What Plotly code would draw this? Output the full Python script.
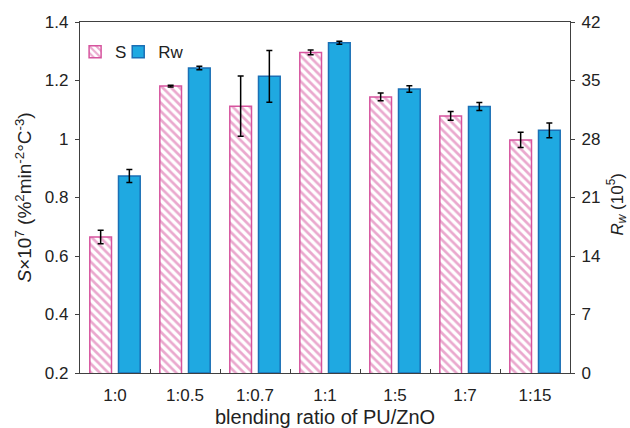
import plotly.graph_objects as go

categories = ["1:0", "1:0.5", "1:0.7", "1:1", "1:5", "1:7", "1:15"]
s_values = [0.665, 1.181, 1.112, 1.296, 1.144, 1.079, 0.997]
s_errors = [0.023, 0.003, 0.103, 0.008, 0.013, 0.015, 0.026]
rw_values = [23.57, 36.5, 35.5, 39.53, 33.98, 31.9, 29.04]
rw_errors = [0.78, 0.2, 3.1, 0.18, 0.38, 0.48, 0.88]

pink = "#d6549e"
blue_fill = "#1fa9e1"
blue_line = "#1b6fb5"
axis_col = "#404040"
font_family = "Liberation Sans, Arial, sans-serif"

fig = go.Figure()
fig.add_trace(go.Bar(
    x=categories, y=s_values, name="S",
    width=0.31, offset=-0.36,
    marker=dict(color="white", line=dict(color=pink, width=1.5),
                pattern=dict(shape="\\", fgcolor=pink, bgcolor="white",
                             size=6, solidity=0.45, fillmode="overlay")),
    error_y=dict(type="data", array=s_errors, color="black", thickness=1.5, width=3),
    yaxis="y", legend="legend",
))
fig.add_trace(go.Bar(
    x=categories, y=rw_values, name="Rw",
    width=0.31, offset=0.05,
    marker=dict(color=blue_fill, line=dict(color=blue_line, width=1.5)),
    error_y=dict(type="data", array=rw_errors, color="black", thickness=1.5, width=3),
    yaxis="y2", legend="legend2",
))

leg_common = dict(orientation="h", y=0.965, xanchor="left", yanchor="top",
                  bgcolor="rgba(0,0,0,0)", font=dict(size=17), itemwidth=30)

fig.update_layout(
    width=630, height=428,
    margin=dict(l=80, r=60, t=22, b=55, autoexpand=False),
    paper_bgcolor="white", plot_bgcolor="white",
    font=dict(family=font_family, size=17, color="#222222"),
    barmode="overlay",
    showlegend=True,
    legend=dict(x=-0.01, **leg_common),
    legend2=dict(x=0.078, **leg_common),
    xaxis=dict(
        type="category", tickson="boundaries", ticks="inside", ticklen=4,
        tickcolor=axis_col, showline=True, linecolor=axis_col, linewidth=1.3,
        mirror=True, showgrid=False, ticklabelstandoff=6, automargin=False,
        tickfont=dict(size=17),
    ),
    yaxis=dict(
        range=[0.2, 1.4], dtick=0.2, tick0=0.2, ticks="outside", ticklen=4,
        tickcolor=axis_col, showline=True, linecolor=axis_col, linewidth=1.3,
        showgrid=False, zeroline=False, ticklabelstandoff=3, automargin=False,
        tickfont=dict(size=17),
    ),
    yaxis2=dict(
        range=[0, 42], dtick=7, tick0=0, overlaying="y", side="right",
        ticks="outside", ticklen=4, tickcolor=axis_col, showline=True,
        linecolor=axis_col, linewidth=1.3, showgrid=False, zeroline=False,
        ticklabelstandoff=3, automargin=False,
        tickfont=dict(size=17),
    ),
    annotations=[
        dict(text="blending ratio of PU/ZnO", xref="paper", yref="paper",
             x=0.5, y=0, xanchor="center", yanchor="middle", yshift=-44,
             showarrow=False, font=dict(size=20)),
        dict(text="<i>S</i>×10<sup>7</sup> (%<sup>2</sup>min<sup>-2</sup>°C<sup>-3</sup>)",
             xref="paper", yref="paper", x=0, y=0.5, xanchor="center", yanchor="middle",
             xshift=-57, textangle=-90, showarrow=False, font=dict(size=19)),
        dict(text="<i>R<sub>w</sub></i> (10<sup>5</sup>)", xref="paper", yref="paper",
             x=1, y=0.48, xanchor="center", yanchor="middle", xshift=47,
             textangle=-90, showarrow=False, font=dict(size=17)),
    ],
)

fig.write_html("out.html", config={"displayModeBar": False},
               post_script="document.body.style.margin='0';document.body.style.overflow='hidden';")
